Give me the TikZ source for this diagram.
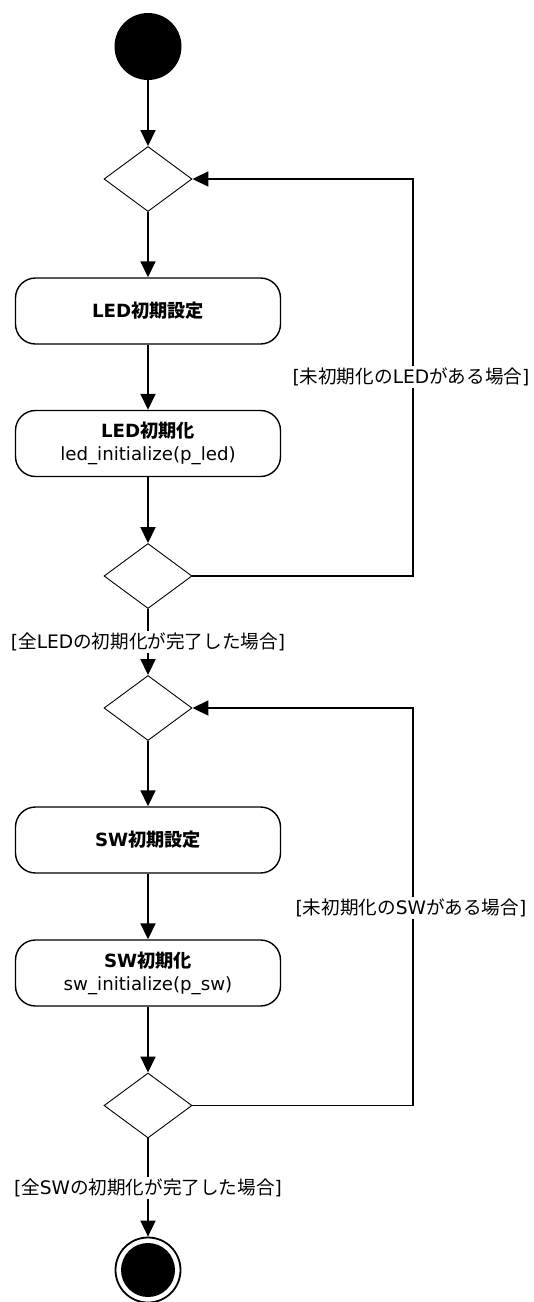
\documentclass[tikz,border=0pt]{standalone}
\usepackage{fontspec}
\setmainfont{DejaVu Sans}
\newfontfamily\jp{Noto Sans CJK JP}
\usetikzlibrary{shapes.geometric,arrows.meta}
\tikzset{
  flow/.style={line width=1.8pt,-{Triangle[length=16pt,width=15pt]}},
  actbox/.style={draw,line width=1.4pt,rounded corners=20pt,minimum width=265pt,minimum height=66pt,align=center,inner sep=0pt,font=\fontsize{18.2}{23}\selectfont},
  decision/.style={draw,diamond,line width=0.9pt,minimum width=88pt,minimum height=65pt,inner sep=0pt},
  guard/.style={fill=white,inner sep=2pt,font=\fontsize{18.6}{23}\selectfont},
}
\begin{document}
\begin{tikzpicture}[x=1pt,y=-1pt]
\useasboundingbox (0,0) rectangle (534,1302);
\node[circle,fill=black,minimum size=67pt,inner sep=0pt] (start) at (148,46.5) {};
\node[decision] (d1) at (148,179) {};
\node[actbox] (b1) at (148,311) {\bfseries LED{\jp 初期設定}};
\node[actbox] (b2) at (148,443.5) {{\bfseries LED{\jp 初期化}}\\led\_initialize(p\_led)};
\node[decision] (d2) at (148,576) {};
\node[decision] (d3) at (148,708) {};
\node[actbox] (b3) at (148,840) {\bfseries SW{\jp 初期設定}};
\node[actbox] (b4) at (148,973) {{\bfseries SW{\jp 初期化}}\\sw\_initialize(p\_sw)};
\node[decision] (d4) at (148,1105.5) {};
\node[circle,draw,line width=1.8pt,minimum size=65pt,inner sep=0pt] (end) at (148,1270) {};
\fill (end.center) circle (27pt);

\coordinate (c1) at (413,576);
\coordinate (c2) at (413,179);
\coordinate (c3) at (413,1105.5);
\coordinate (c4) at (413,708);

\draw[flow] (start) -- (d1);
\draw[flow] (d1) -- (b1);
\draw[flow] (b1) -- (b2);
\draw[flow] (b2) -- (d2);
\draw[flow] (d2) -- (d3);
\draw[flow] (d3) -- (b3);
\draw[flow] (b3) -- (b4);
\draw[flow] (b4) -- (d4);
\draw[flow] (d4) -- (end);
\draw[flow] (d2.east) -- (c1) -- (c2) -- (d1.east);
\draw[flow] (d4.east) -- (c3) -- (c4) -- (d3.east);

\node[guard] (g1) at (411,377) {[{\jp 未初期化の}LED{\jp がある場合}]};
\node[guard] (g2) at (148,642) {[{\jp 全}LED{\jp の初期化が完了した場合}]};
\node[guard] (g3) at (411,908) {[{\jp 未初期化の}SW{\jp がある場合}]};
\node[guard] (g4) at (148,1188) {[{\jp 全}SW{\jp の初期化が完了した場合}]};
\end{tikzpicture}
\end{document}
